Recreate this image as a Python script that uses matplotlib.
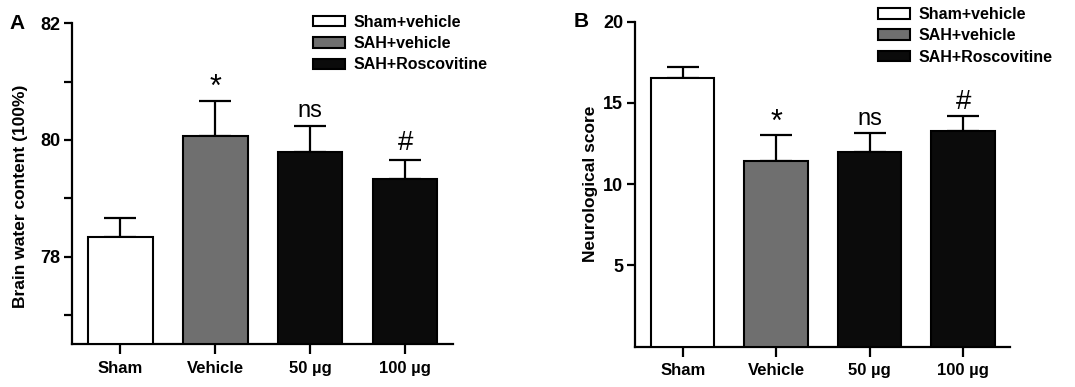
import numpy as np
import matplotlib.pyplot as plt
from matplotlib.patches import Patch
from matplotlib.ticker import MultipleLocator

plt.rcParams['font.family'] = ['Liberation Sans', 'DejaVu Sans']
plt.rcParams['font.weight'] = 'bold'
plt.rcParams['axes.labelweight'] = 'bold'

groups = ['Sham', 'Vehicle', '50 µg', '100 µg']
colors = ['white', '#6f6f6f', '#0b0b0b', '#0b0b0b']
legend_labels = ['Sham+vehicle', 'SAH+vehicle', 'SAH+Roscovitine']
legend_colors = ['white', '#6f6f6f', '#0b0b0b']
marks = ['', '*', 'ns', '#']

# panel A: brain water content
water = [78.33, 80.07, 79.8, 79.33]
water_err = [0.33, 0.6, 0.43, 0.33]

# panel B: neurological score
score = [16.53, 11.4, 11.97, 13.26]
score_err = [0.67, 1.63, 1.17, 0.92]

fig = plt.figure(figsize=(10.75, 3.87), dpi=100)
axA = fig.add_axes([0.067, 0.111, 0.354, 0.829])
axB = fig.add_axes([0.5907, 0.104, 0.3488, 0.840])

mark_size = {'*': 22, 'ns': 17, '#': 20}


def draw(ax, vals, errs, ylim, ylabel, letter, leg_xy, mark_off, lab_xy):
    x = np.arange(len(vals))
    base = ylim[0]
    heights = [v - base for v in vals]
    ax.bar(x, heights, bottom=base, width=0.68, color=colors,
           edgecolor='black', linewidth=1.5, zorder=3)
    ax.errorbar(x, vals, yerr=[np.zeros(len(errs)), errs], fmt='none',
                ecolor='black', elinewidth=1.6, capsize=11.5, capthick=1.6, zorder=2)
    for xi, v, e, m in zip(x, vals, errs, marks):
        if m:
            ax.annotate(m, (xi, v + e), xytext=(0, mark_off[m]), textcoords='offset points',
                        ha='center', va='center', fontweight='normal',
                        fontsize=mark_size[m])
    ax.set_xlim(-0.51, 3.5)
    ax.set_ylim(*ylim)
    ax.set_xticks(x)
    ax.set_xticklabels(groups, fontsize=12)
    ax.set_ylabel(ylabel, fontsize=12.5)
    ax.yaxis.set_label_coords(*lab_xy)
    for s in ['top', 'right']:
        ax.spines[s].set_visible(False)
    for s in ['left', 'bottom']:
        ax.spines[s].set_linewidth(1.6)
    ax.tick_params(axis='x', which='major', direction='out', length=7,
                   width=1.6, labelsize=12, pad=5)
    ax.tick_params(axis='y', which='major', direction='out', length=5.5,
                   width=1.6, labelsize=13, pad=3)
    ax.tick_params(axis='y', which='minor', direction='out', length=5.5, width=1.6)
    handles = [Patch(facecolor=c, edgecolor='black', linewidth=1.5) for c in legend_colors]
    fig.legend(handles, legend_labels, loc='upper left', bbox_to_anchor=leg_xy,
               bbox_transform=fig.transFigure,
               frameon=False, fontsize=11.5, handlelength=2.0, handleheight=0.65,
               labelspacing=0.4, handletextpad=0.56, borderaxespad=0, borderpad=0)
    ax.text(-0.165, 1.0, letter, transform=ax.transAxes, fontsize=15,
            ha='left', va='center')


draw(axA, water, water_err, (76.5, 82), 'Brain water content (100%)', 'A', (0.291, 0.962),
     {'*': 9, 'ns': 11, '#': 12}, (-0.115, 0.46))
axA.yaxis.set_major_locator(MultipleLocator(2))
axA.yaxis.set_minor_locator(MultipleLocator(1))

draw(axB, score, score_err, (0, 20), 'Neurological score', 'B', (0.8167, 0.982),
     {'*': 9, 'ns': 10, '#': 10}, (-0.1, 0.5))
axB.set_yticks([5, 10, 15, 20])

fig.savefig('out.png', dpi=100)
